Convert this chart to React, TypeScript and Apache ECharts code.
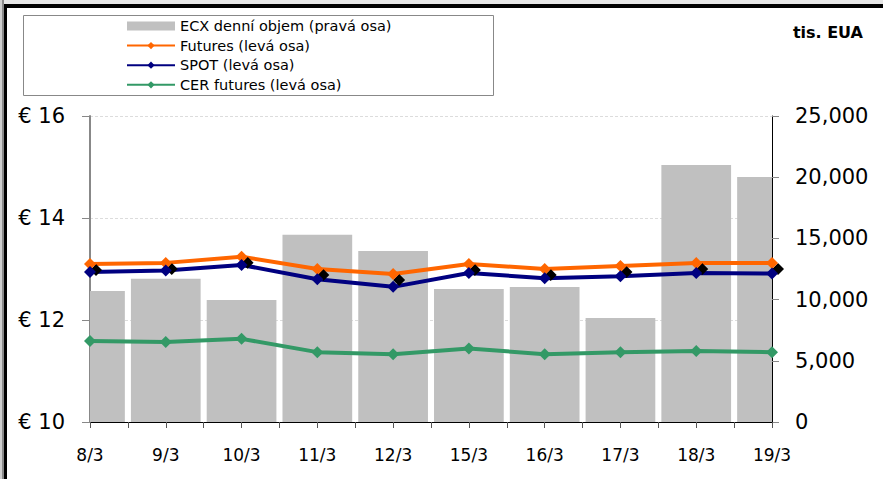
import React, { useEffect, useRef } from "react";
import * as echarts from "echarts";

const dates = ["8/3", "9/3", "10/3", "11/3", "12/3", "15/3", "16/3", "17/3", "18/3", "19/3"];
const volume = [10700, 11700, 9970, 15300, 13970, 10870, 11030, 8500, 21000, 20020];
const futures = [13.1, 13.12, 13.24, 13.0, 12.9, 13.1, 13.0, 13.06, 13.12, 13.12];
const spot = [12.94, 12.97, 13.08, 12.8, 12.65, 12.92, 12.82, 12.86, 12.92, 12.91];
const cer = [11.59, 11.57, 11.63, 11.37, 11.33, 11.44, 11.33, 11.37, 11.39, 11.37];
const seriesNames = [
  "ECX denní objem (pravá osa)",
  "Futures (levá osa)",
  "SPOT (levá osa)",
  "CER futures (levá osa)",
];
const unitLabel = "tis. EUA";

const FONT = "DejaVu Sans";

export default function App() {
  const ref = useRef<HTMLDivElement>(null);
  useEffect(() => {
    if (!ref.current) return;
    const chart = echarts.init(ref.current, null, { renderer: "svg" });
    const pts = (arr: number[]) => arr.map((v, i) => [i, v]);
    const lineSeries = (name: string, data: number[], color: string, extra: any = {}) => ({
      name,
      type: "line",
      yAxisIndex: 0,
      data: pts(data),
      symbol: "diamond",
      symbolSize: 12,
      lineStyle: { color, width: 4 },
      itemStyle: { color, ...extra },
      z: 3,
    });
    chart.setOption({
      animation: false,
      backgroundColor: "#ffffff",
      textStyle: { fontFamily: FONT },
      grid: { left: 90, right: 111, top: 116, bottom: 57, containLabel: false },
      legend: {
        orient: "vertical",
        left: 126,
        top: 18,
        padding: 0,
        itemWidth: 48,
        itemHeight: 9,
        itemGap: 3.6,
        data: [
          { name: seriesNames[0], icon: "rect" },
          seriesNames[1],
          seriesNames[2],
          seriesNames[3],
        ],
        textStyle: { fontFamily: FONT, fontSize: 14.5, color: "#000", lineHeight: 16 },
        lineStyle: { width: 2 },
        itemStyle: { shadowColor: "transparent", shadowOffsetX: 0, shadowOffsetY: 0, shadowBlur: 0 },
        selectedMode: false,
      },
      xAxis: {
        type: "value",
        min: 0,
        max: dates.length - 1,
        interval: 0.5,
        axisLine: { show: true, lineStyle: { color: "#000", width: 1 } },
        axisTick: { show: true, length: 6, lineStyle: { color: "#555" } },
        splitLine: { show: false },
        axisLabel: {
          margin: 24,
          fontSize: 17,
          color: "#000",
          fontFamily: FONT,
          showMinLabel: true,
          showMaxLabel: true,
          formatter: (v: number) => (Number.isInteger(v) && dates[v] !== undefined ? dates[v] : ""),
        },
      },
      yAxis: [
        {
          type: "value",
          min: 10,
          max: 16,
          interval: 2,
          position: "left",
          axisLine: { show: true, lineStyle: { color: "#888", width: 2 } },
          axisTick: { show: true, length: 8, lineStyle: { color: "#888" } },
          splitLine: { show: true, lineStyle: { color: "#dcdcdc", type: [3, 2], width: 1 } },
          axisLabel: {
            margin: 25,
            fontSize: 21,
            color: "#000",
            fontFamily: FONT,
            formatter: (v: number) => "€ " + v,
          },
        },
        {
          type: "value",
          min: 0,
          max: 25000,
          interval: 5000,
          position: "right",
          axisLine: { show: true, lineStyle: { color: "#000", width: 1 } },
          axisTick: { show: true, length: 7, lineStyle: { color: "#888" } },
          splitLine: { show: false },
          axisLabel: {
            margin: 23,
            fontSize: 21,
            color: "#000",
            fontFamily: FONT,
            formatter: (v: number) => v.toLocaleString("en-US"),
          },
        },
      ],
      series: [
        {
          name: seriesNames[0],
          type: "custom",
          yAxisIndex: 1,
          data: pts(volume),
          encode: { x: 0, y: 1 },
          itemStyle: { color: "#c0c0c0" },
          z: 1,
          renderItem: (params: any, api: any) => {
            const x = api.value(0);
            const v = api.value(1);
            const top = api.coord([x, v]);
            const base = api.coord([x, 0]);
            const w = api.size([1, 0])[0] * 0.92;
            const cs = params.coordSys;
            const rect = echarts.graphic.clipRectByRect(
              { x: top[0] - w / 2, y: top[1], width: w, height: base[1] - top[1] },
              { x: cs.x, y: cs.y, width: cs.width, height: cs.height }
            );
            if (!rect) return null;
            return { type: "rect", shape: rect, style: api.style() };
          },
        },
        lineSeries(seriesNames[1], futures, "#ff6600", {
          shadowColor: "#000",
          shadowBlur: 0,
          shadowOffsetX: 6,
          shadowOffsetY: 6,
        }),
        lineSeries(seriesNames[2], spot, "#000080"),
        lineSeries(seriesNames[3], cer, "#339966"),
      ],
      graphic: [
        { type: "rect", z: -10, shape: { x: 0, y: 0, width: 883, height: 4 }, style: { fill: "#e6e6e6" } },
        { type: "rect", z: -9, shape: { x: 0, y: 0, width: 2, height: 479 }, style: { fill: "#cfcfcf" } },
        { type: "rect", z: -9, shape: { x: 2, y: 0, width: 2, height: 479 }, style: { fill: "#8a8a8a" } },
        { type: "rect", z: -9, shape: { x: 4, y: 4, width: 3, height: 475 }, style: { fill: "#000" } },
        { type: "rect", z: -9, shape: { x: 4, y: 4, width: 879, height: 4 }, style: { fill: "#000" } },
        {
          type: "rect",
          z: -5,
          shape: { x: 23.5, y: 15.5, width: 470, height: 80 },
          style: { fill: "#fff", stroke: "#888", lineWidth: 1 },
        },
        {
          type: "text",
          z: 5,
          x: 863,
          y: 32,
          style: {
            text: unitLabel,
            fill: "#000",
            font: "bold 16px 'DejaVu Sans'",
            align: "right",
            verticalAlign: "middle",
          },
        },
      ],
    });
    return () => chart.dispose();
  }, []);
  return (
    <div
      ref={ref}
      style={{ position: "absolute", left: 0, top: 0, width: 883, height: 479, background: "#fff" }}
    />
  );
}
